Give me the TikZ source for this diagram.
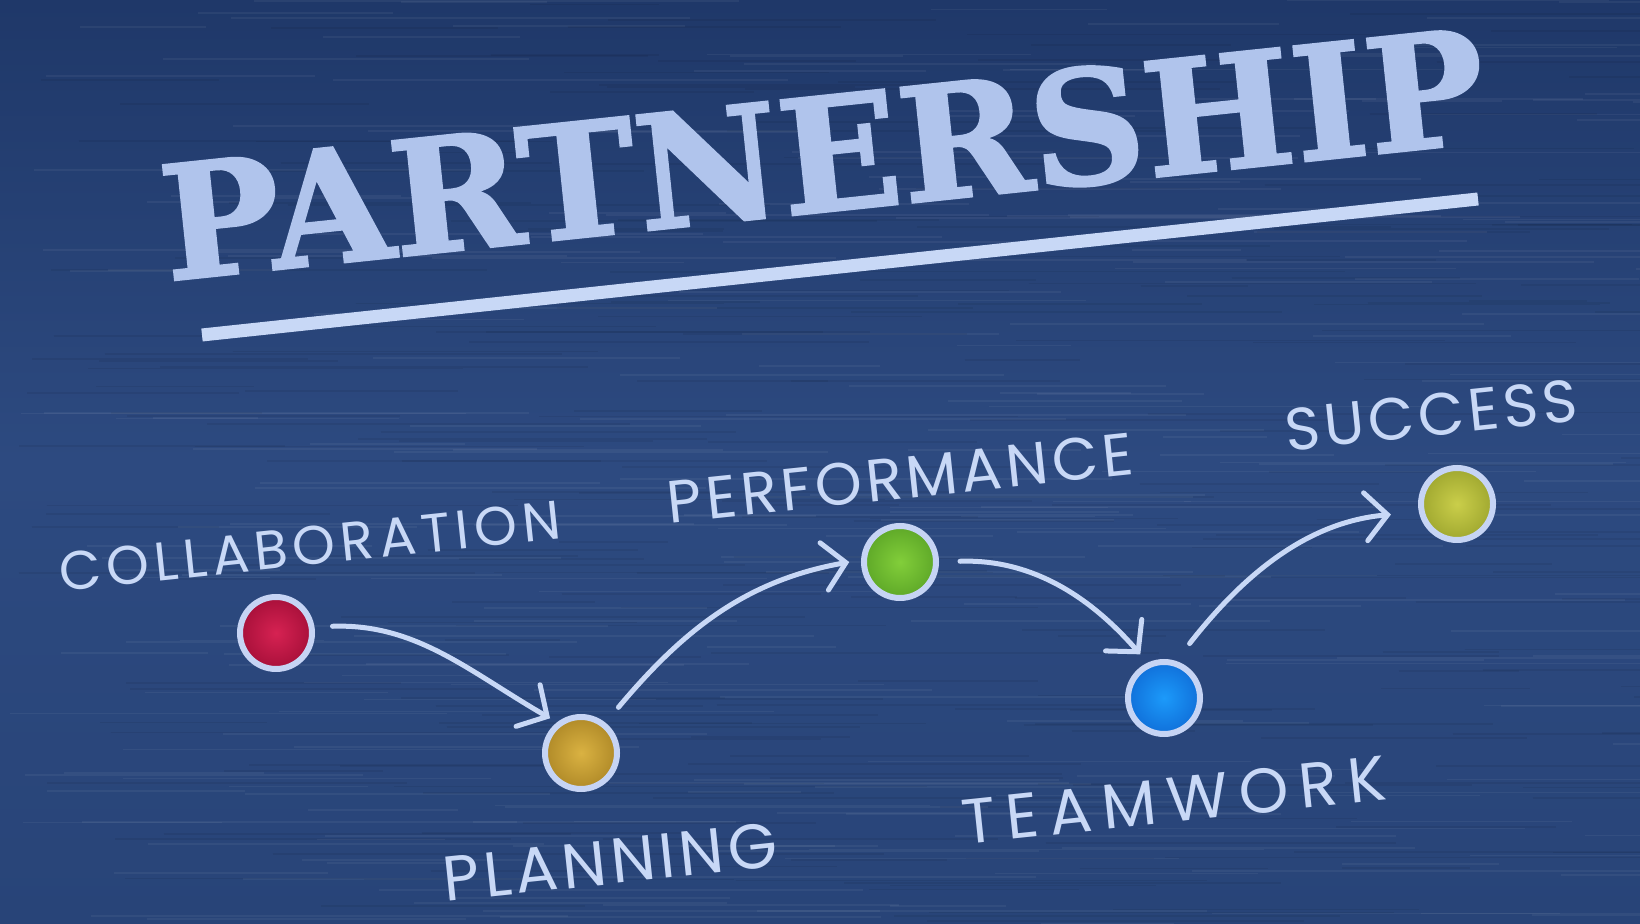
\documentclass[tikz,border=0pt]{standalone}
\usepackage{fontspec}
\setmainfont{Poppins}
\newfontfamily\titlefont{DejaVu Serif}[BoldFeatures={FakeBold=1.6}]
\usetikzlibrary{positioning, arrows.meta}

\definecolor{bgtop}{RGB}{31,56,105}
\definecolor{bgmid}{RGB}{45,74,128}
\definecolor{bgbot}{RGB}{40,68,120}
\definecolor{chalkblue}{RGB}{200,216,246}
\definecolor{titleblue}{RGB}{176,196,236}
\definecolor{ring}{RGB}{198,212,244}

\begin{document}
\begin{tikzpicture}[
	ball/.style={circle, draw=ring, line width=0.06cm, minimum size=0.72cm, inner sep=0pt},
	arr/.style={draw=chalkblue, line width=0.05cm, line cap=round, -{Straight Barb[length=0.22cm, width=0.48cm, line cap=round]}},
	word/.style={text=chalkblue, rotate=6, inner sep=0pt}
]
			\useasboundingbox (0, 0) rectangle (16.4, 9.24);
			\fill[top color=bgtop, bottom color=bgbot, middle color=bgmid] (0, 0) rectangle (16.4, 9.24);
			% brushed look
			\pgfmathsetseed{7}
			\foreach \i in {1,...,260} {
				\draw[white, opacity=0.05, line width=0.5pt] (rnd*16.4, rnd*9.24) -- ++(1+rnd*4, 0);
				\draw[black, opacity=0.06, line width=0.5pt] (rnd*16.4, rnd*9.24) -- ++(1+rnd*4, 0);
			}
			
			\node (title) at (8.23, 7.70) [rotate=6, text=titleblue, inner sep=0pt, font=\titlefont\bfseries\fontsize{45}{50}\selectfont] {PARTNERSHIP};
			\draw[draw=chalkblue, line width=0.13cm] (2.02, 5.89) -- (14.78, 7.25);
			
			\node (n0) at (2.76, 2.91) [ball, inner color={rgb,255:red,214;green,34;blue,82}, outer color={rgb,255:red,168;green,16;blue,58}] {};
			\node (n1) at (5.81, 1.71) [ball, inner color={rgb,255:red,218;green,178;blue,66}, outer color={rgb,255:red,176;green,138;blue,40}] {};
			\node (n2) at (9.00, 3.62) [ball, inner color={rgb,255:red,130;green,206;blue,58}, outer color={rgb,255:red,94;green,168;blue,40}] {};
			\node (n3) at (11.64, 2.26) [ball, inner color={rgb,255:red,28;green,154;blue,250}, outer color={rgb,255:red,16;green,112;blue,218}] {};
			\node (n4) at (14.57, 4.20) [ball, inner color={rgb,255:red,202;green,206;blue,74}, outer color={rgb,255:red,160;green,168;blue,48}] {};
			
			\node (t0) at (3.10, 3.78) [word, font=\fontsize{15.5}{18}\selectfont\addfontfeature{LetterSpace=10}] {COLLABORATION};
			\node (t1) at (6.10, 0.62) [word, font=\fontsize{18}{20}\selectfont\addfontfeature{LetterSpace=7}] {PLANNING};
			\node (t2) at (9.00, 4.46) [word, font=\fontsize{17}{20}\selectfont\addfontfeature{LetterSpace=7}] {PERFORMANCE};
			\node (t3) at (11.74, 1.24) [word, font=\fontsize{18}{20}\selectfont\addfontfeature{LetterSpace=17}] {TEAMWORK};
			\node (t4) at (14.31, 5.09) [word, font=\fontsize{17}{20}\selectfont\addfontfeature{LetterSpace=7}] {SUCCESS};
			
			\draw[arr, shorten <=0.18cm, shorten >=0.08cm] (n0.9) to[out=2, in=150] (n1.128);
			\draw[arr, shorten <=0.20cm, shorten >=0.12cm] (n1.51) to[out=50, in=190] (n2.177);
			\draw[arr, shorten <=0.21cm, shorten >=0.11cm] (n2.0) to[out=2, in=131] (n3.115);
			\draw[arr, shorten <=0.22cm, shorten >=0.28cm] (n3.72) to[out=52, in=185] (n4.192);
		\end{tikzpicture}
\end{document}
